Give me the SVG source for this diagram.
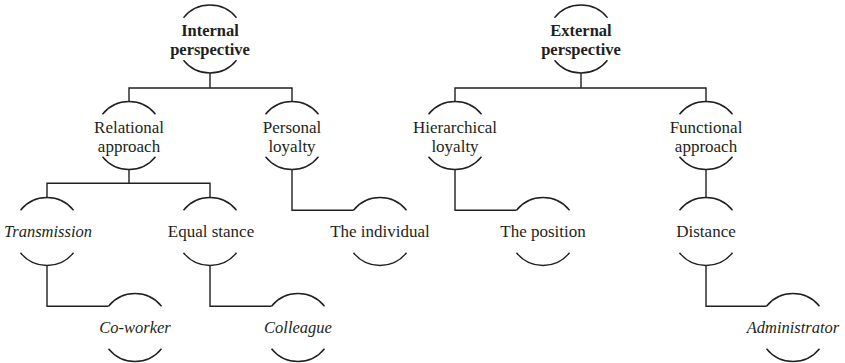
<svg xmlns="http://www.w3.org/2000/svg" width="845" height="363" viewBox="0 0 845 363">
<style>
.arc{fill:none;stroke:#231f20;stroke-width:1.4}
.ln{fill:none;stroke:#231f20;stroke-width:1.4}
.t{font-family:'Liberation Serif',serif;fill:#231f20;text-anchor:middle;font-size:17px}
.b{font-weight:bold;font-size:16.5px}
.i{font-style:italic;font-size:16.5px}
</style>
<defs>
<path id="node" class="arc" d="M-26.5,-21.3 A34,34 0 0 1 26.5,-21.3 M-26.5,21.3 A34,34 0 0 0 26.5,21.3"/>
</defs>
<g id="connectors">
<path class="ln" d="M210,73 V88 M129,101.5 V88 H292 V101.5"/>
<path class="ln" d="M581,73 V88 M455,101.5 V88 H706 V101.5"/>
<path class="ln" d="M129,169.5 V183.3 M47,197.5 V183.3 H210 V197.5"/>
<path class="ln" d="M292,169.5 V210.2 H353.5"/>
<path class="ln" d="M455,169.5 V210.2 H516.5"/>
<path class="ln" d="M706,169.5 V197.5"/>
<path class="ln" d="M47,265.5 V306.2 H108.5"/>
<path class="ln" d="M210,265.5 V306.2 H271.5"/>
<path class="ln" d="M706,265.5 V306.2 H766.5"/>
</g>
<g font-family="Liberation Serif, serif">
<g id="internal"><use href="#node" x="210" y="39"/><text class="t b" x="210" y="36">Internal</text><text class="t b" x="210" y="55">perspective</text></g>
<g id="external"><use href="#node" x="581" y="39"/><text class="t b" x="581" y="36">External</text><text class="t b" x="581" y="55">perspective</text></g>
<g id="relational"><use href="#node" x="129" y="135.5"/><text class="t" x="129" y="132.5">Relational</text><text class="t" x="129" y="151.5">approach</text></g>
<g id="personal"><use href="#node" x="292" y="135.5"/><text class="t" x="292" y="132.5">Personal</text><text class="t" x="292" y="151.5">loyalty</text></g>
<g id="hierarchical"><use href="#node" x="455" y="135.5"/><text class="t" x="455" y="132.5">Hierarchical</text><text class="t" x="455" y="151.5">loyalty</text></g>
<g id="functional"><use href="#node" x="706" y="135.5"/><text class="t" x="706" y="132.5">Functional</text><text class="t" x="706" y="151.5">approach</text></g>
<g id="transmission"><use href="#node" x="47" y="231.5"/><text class="t i" x="48" y="236.5">Transmission</text></g>
<g id="equal"><use href="#node" x="210" y="231.5"/><text class="t" x="211" y="236.5">Equal stance</text></g>
<g id="individual"><use href="#node" x="380" y="231.5"/><text class="t" x="380" y="236.5">The individual</text></g>
<g id="position"><use href="#node" x="543" y="231.5"/><text class="t" x="543" y="236.5">The position</text></g>
<g id="distance"><use href="#node" x="706" y="231.5"/><text class="t" x="706" y="236.5">Distance</text></g>
<g id="coworker"><use href="#node" x="135" y="327.5"/><text class="t i" x="135" y="333">Co-worker</text></g>
<g id="colleague"><use href="#node" x="298" y="327.5"/><text class="t i" x="298" y="333">Colleague</text></g>
<g id="administrator"><use href="#node" x="793" y="327.5"/><text class="t i" x="793" y="333">Administrator</text></g>
</g>
</svg>
